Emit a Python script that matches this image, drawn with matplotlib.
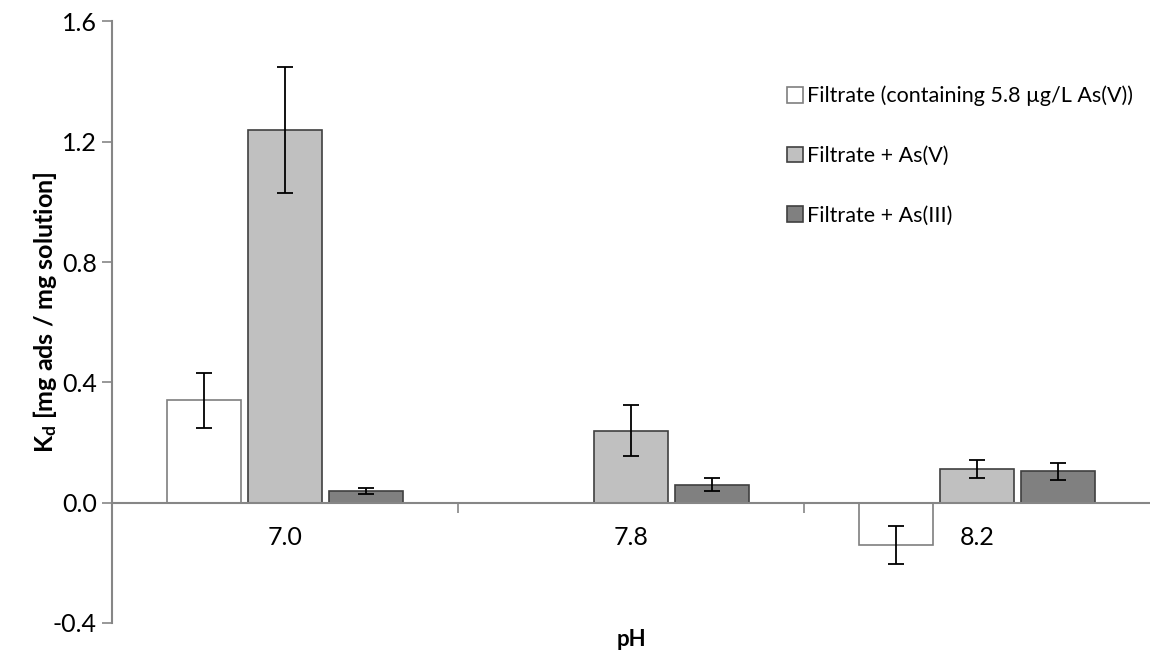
import numpy as np
import matplotlib.pyplot as plt

plt.rcParams['font.family'] = ['Lato', 'DejaVu Sans']
plt.rcParams['mathtext.fontset'] = 'custom'
plt.rcParams['mathtext.rm'] = 'Lato'
plt.rcParams['mathtext.bf'] = 'Lato:bold'

ph_labels = ["7.0", "7.8", "8.2"]
series = ["Filtrate (containing 5.8 µg/L As(V))", "Filtrate + As(V)", "Filtrate + As(III)"]
kd_filtrate = [0.34, np.nan, -0.141]
kd_asv = [1.24, 0.239, 0.112]
kd_asiii = [0.039, 0.06, 0.104]
err_filtrate = [0.092, 0, 0.063]
err_asv = [0.21, 0.085, 0.031]
err_asiii = [0.011, 0.021, 0.027]

fills = ["white", "#c0c0c0", "#808080"]
edges = ["#7f7f7f", "#404040", "#404040"]

fig = plt.figure(figsize=(11.5, 6.59), dpi=100)
ax = fig.add_axes([112 / 1150, 1 - 623 / 659, 1 - 112 / 1150, (623 - 21.5) / 659])

x = np.arange(len(ph_labels))
width = 0.212
step = 0.234
vals = [kd_filtrate, kd_asv, kd_asiii]
errs = [err_filtrate, err_asv, err_asiii]
for i in range(3):
    pos = x + (i - 1) * step
    v = np.array(vals[i], dtype=float)
    e = np.array(errs[i], dtype=float)
    ax.bar(pos, v, width, color=fills[i], edgecolor=edges[i], linewidth=1.2,
           label=series[i], zorder=2)
    ok = ~np.isnan(v)
    ax.errorbar(pos[ok], v[ok], yerr=e[ok], fmt='none', ecolor='black',
                elinewidth=1.3, capsize=6, capthick=1.3, zorder=3)

ax.set_xlim(-0.5, 2.5)
ax.set_ylim(-0.4, 1.6)
ax.set_yticks(np.arange(-0.4, 1.61, 0.4))
ax.set_yticklabels(["%.1f" % t for t in np.arange(-0.4, 1.61, 0.4)])

for s in ['top', 'right']:
    ax.spines[s].set_visible(False)
ax.spines['left'].set_color('#868686')
ax.spines['left'].set_linewidth(1.5)
ax.spines['bottom'].set_position(('data', 0))
ax.spines['bottom'].set_color('#868686')
ax.spines['bottom'].set_linewidth(1.5)
ax.spines['bottom'].set_zorder(4)

ax.set_xticks(x)
ax.set_xticklabels(ph_labels)
ax.set_xticks([0.5, 1.5], minor=True)
ax.tick_params(axis='x', which='major', length=0, pad=17, labelsize=18)
ax.tick_params(axis='x', which='minor', length=7, color='#868686', width=1.2)
ax.tick_params(axis='y', length=7, color='#868686', width=1.2, labelsize=18, pad=4)

fig.text(631 / 1150, 1 - 640 / 659, "pH", ha='center', va='center',
         fontsize=16, fontweight='bold')
fig.text(45 / 1150, 1 - 312 / 659, r"$\mathbf{K_d}$ [mg ads / mg solution]",
         ha='center', va='center', rotation=90, fontsize=18, fontweight='bold')

ax.legend(loc='upper left', bbox_to_anchor=(778 / 1150, 1 - 77 / 659),
          bbox_transform=fig.transFigure, frameon=False, fontsize=15.5,
          handlelength=0.75, handleheight=0.75, handletextpad=0.2,
          labelspacing=1.85, borderaxespad=0)

plt.savefig("out.png", dpi=100)
